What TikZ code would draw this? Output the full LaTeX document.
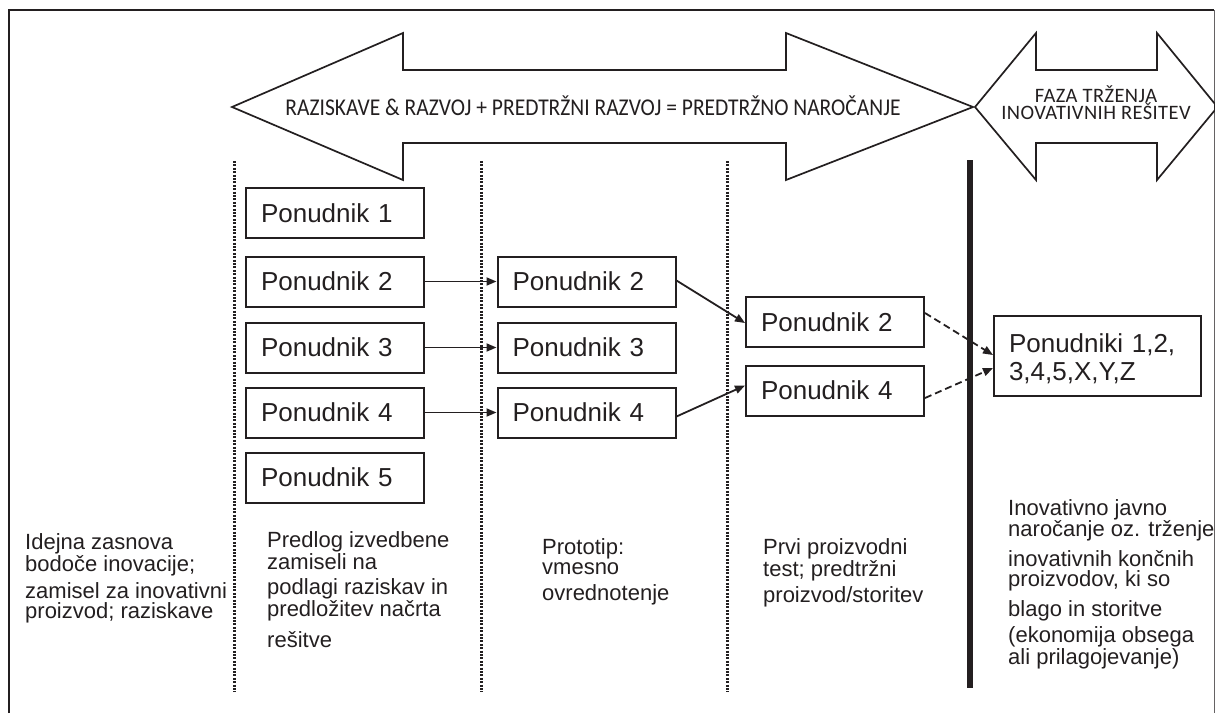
\documentclass[tikz,border=0pt]{standalone}
\usepackage{fontspec}
\setmainfont{Liberation Sans}
\newfontfamily\arrowfont{Carlito}
\newfontfamily\arrowfontwide[LetterSpace=2]{Carlito}
\usetikzlibrary{arrows.meta,calc}
\definecolor{ink}{RGB}{35,31,32}
\begin{document}
\begin{tikzpicture}[x=1pt,y=-1pt,
  bigarrow/.style={draw=ink, line width=1.7pt, fill=white, line join=miter},
  arrowtext/.style={text=ink, inner sep=0pt},
  phaseline/.style={draw=ink, line width=3pt, dash pattern=on 2pt off 1.4pt},
  gate/.style={draw=ink, line width=5.5pt},
  pbox/.style={draw=ink, line width=2pt, minimum height=50pt, text width=148pt,
    inner xsep=15pt, inner ysep=0pt, align=left, text=ink,
    font=\fontsize{26}{28}\selectfont},
  flow/.style={draw=ink, line width=1.8pt, -{Triangle[length=10pt,width=8pt]}},
  dflow/.style={flow, dash pattern=on 7pt off 4pt},
  desc/.style={anchor=base west, inner sep=0pt, align=left, text=ink,
    font=\fontsize{22}{19.5}\selectfont}]
\useasboundingbox (0,0) rectangle (1215,713);

% outer frame, open at the bottom
\draw[ink, line width=2pt] (9,713) -- (9,10) -- (1214,10);
\draw[ink!70, line width=1pt] (1214,10) -- (1214,713);

% phase arrows
\draw[bigarrow] (232,107) -- (403,33) -- (403,70) -- (786,70) -- (786,33)
  -- (973,107) -- (786,180) -- (786,143) -- (403,143) -- (403,180) -- cycle;
\node[arrowtext, anchor=base] (rd) at (593,115)
  {\arrowfont\fontsize{21.5}{17}\selectfont\scalebox{1}[1.12]{RAZISKAVE \& RAZVOJ + PREDTRŽNI RAZVOJ = PREDTRŽNO NAROČANJE}};
\draw[bigarrow] (975,107) -- (1036,33) -- (1036,70) -- (1157,70) -- (1157,33)
  -- (1215,104) -- (1215,110) -- (1157,180) -- (1157,143) -- (1036,143) -- (1036,180) -- cycle;
\node[arrowtext, align=center, anchor=base, font=\arrowfontwide\fontsize{20.5}{17}\selectfont] (mk) at (1096,119.5)
  {FAZA TRŽENJA\\INOVATIVNIH REŠITEV};

% phase boundaries
\coordinate (d1t) at (234,161); \coordinate (d1b) at (234,692);
\coordinate (d2t) at (481,161); \coordinate (d2b) at (481,692);
\coordinate (d3t) at (727,161); \coordinate (d3b) at (727,692);
\coordinate (gt) at (970,160);  \coordinate (gb) at (970,688);
\draw[phaseline] (d1t) -- (d1b);
\draw[phaseline] (d2t) -- (d2b);
\draw[phaseline] (d3t) -- (d3b);
\draw[gate] (gt) -- (gb);

% bidders per phase
\node[pbox] (p11) at (335,213)   {Ponudnik 1};
\node[pbox] (p12) at (335,281.5) {Ponudnik 2};
\node[pbox] (p13) at (335,347.5) {Ponudnik 3};
\node[pbox] (p14) at (335,412.5) {Ponudnik 4};
\node[pbox] (p15) at (335,477.5) {Ponudnik 5};
\node[pbox] (p22) at (586.5,281.5) {Ponudnik 2};
\node[pbox] (p23) at (586.5,347.5) {Ponudnik 3};
\node[pbox] (p24) at (586.5,412.5) {Ponudnik 4};
\node[pbox] (p32) at (835,322)   {Ponudnik 2};
\node[pbox] (p34) at (835,390.5) {Ponudnik 4};
\node[pbox, text width=177pt, minimum height=80pt] (fin) at (1097.5,356)
  {\rule{0pt}{25pt}Ponudniki 1,2,\\3,4,5,X,Y,Z};

% transitions
\draw[flow] (p12.east) -- (p22.west);
\draw[flow] (p13.east) -- (p23.west);
\draw[flow] (p14.east) -- (p24.west);
\draw[flow] ($(p22.east)+(0,-1)$) -- ($(p32.west)+(0,1)$);
\draw[flow] ($(p24.east)+(0,4)$) -- ($(p34.west)+(0,-5)$);
\draw[dflow] ($(p32.east)+(0,-9)$) -- ($(fin.west)+(0,-1)$);
\draw[dflow] ($(p34.east)+(0,7.5)$) -- ($(fin.west)+(0,12)$);

% phase descriptions (anchored at the baseline of the last line)
\node[desc] (t1) at (25,618)
  {Idejna zasnova\\bodoče inovacije;\\[5.5pt]zamisel za inovativni\\proizvod; raziskave};
\node[desc] (t2) at (267,647)
  {Predlog izvedbene\\zamiseli na\\[6pt]podlagi raziskav in\\predložitev načrta\\[9pt]rešitve};
\node[desc] (t3) at (542,600)
  {Prototip:\\vmesno\\[6.5pt]ovrednotenje};
\node[desc] (t4) at (763,602)
  {Prvi proizvodni\\test; predtržni\\[4.5pt]proizvod/storitev};
\node[desc] (t5) at (1008,664)
  {Inovativno javno\\naročanje oz. trženje\\[8.5pt]inovativnih končnih\\proizvodov, ki so\\[8.5pt]blago in storitve\\[4.5pt](ekonomija obsega\\ali prilagojevanje)};
\end{tikzpicture}
\end{document}
